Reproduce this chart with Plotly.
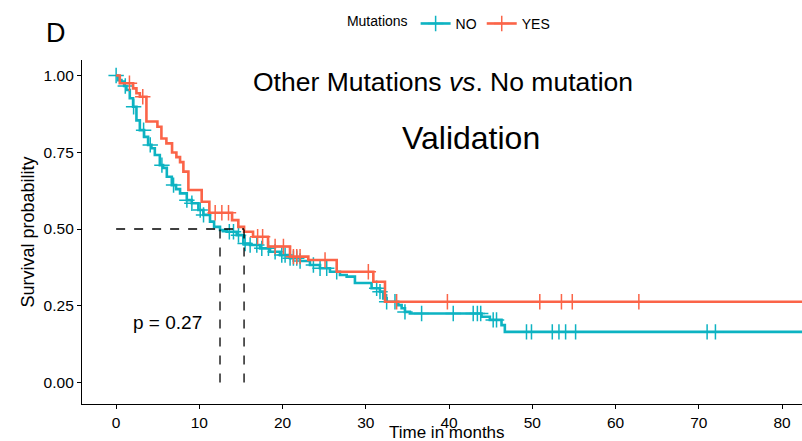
import plotly.graph_objects as go
import numpy as np

# ---- data ----
no_time = [0, 0.24, 0.64, 0.96, 1.24, 1.64, 2.04, 2.44, 2.85, 3.36, 3.84, 4.24, 4.65, 5.25,
           5.64, 6.09, 6.69, 7.20, 7.68, 8.49, 9.09, 9.88, 10.48, 11.28, 11.77, 12.48, 13.28,
           14.48, 15.28, 16.09, 17.29, 18.49, 19.69, 20.89, 22.09, 23.29, 24.49, 25.69, 26.89,
           27.70, 28.69, 30.69, 31.69, 32.09, 32.50, 33.90, 34.30, 34.70, 35.29, 43.90, 44.90,
           46.30, 46.70, 83.0]
no_surv = [1.0, 0.985, 0.980, 0.966, 0.953, 0.926, 0.898, 0.854, 0.822, 0.800, 0.774, 0.763,
           0.741, 0.708, 0.699, 0.670, 0.643, 0.630, 0.616, 0.594, 0.584, 0.562, 0.546, 0.524,
           0.507, 0.497, 0.491, 0.480, 0.453, 0.448, 0.437, 0.426, 0.415, 0.405, 0.396, 0.383,
           0.372, 0.361, 0.350, 0.345, 0.324, 0.307, 0.296, 0.274, 0.263, 0.252, 0.242, 0.230,
           0.225, 0.214, 0.204, 0.187, 0.165, 0.165]
no_censor = [0.0, 1.1, 2.1, 3.3, 4.1, 5.5, 6.9, 8.5, 9.1, 10.1, 10.5, 13.6, 14.1, 14.7, 15.5,
             16.1, 16.9, 17.5, 18.3, 19.1, 19.9, 20.3, 20.9, 21.3, 21.7, 22.1, 23.7, 24.5, 25.3,
             26.5, 31.3, 31.7, 32.5, 33.5, 34.7, 36.7, 40.5, 42.9, 43.4, 43.8, 45.3, 45.7, 49.3,
             49.9, 52.4, 53.2, 54.0, 55.2, 71.0, 72.0]

yes_time = [0, 0.44, 2.04, 2.44, 2.85, 3.64, 4.96, 5.44, 6.04, 6.72, 7.24, 7.68, 8.08, 8.68,
            10.28, 11.20, 13.93, 14.68, 15.37, 16.45, 18.25, 20.89, 23.09, 26.5, 30.9, 32.3, 83.0]
yes_surv = [1.0, 0.975, 0.958, 0.942, 0.931, 0.850, 0.833, 0.795, 0.779, 0.749, 0.734, 0.718,
            0.687, 0.627, 0.589, 0.553, 0.529, 0.507, 0.491, 0.475, 0.443, 0.410, 0.399, 0.361,
            0.328, 0.263, 0.263]
yes_censor = [1.6, 3.2, 11.9, 12.7, 13.5, 17.0, 17.6, 19.1, 20.1, 21.3, 21.7, 22.1, 25.1, 30.3,
              33.7, 39.8, 50.9, 53.5, 54.8, 62.8]

groups = ["NO", "YES"]
colors = {"NO": "#0DB3C2", "YES": "#FB6448"}
p_text = "p = 0.27"
x_ticks = [0, 10, 20, 30, 40, 50, 60, 70, 80]
y_ticks = [0, 0.25, 0.5, 0.75, 1.0]

FONT = "Liberation Sans, Arial, Helvetica, sans-serif"

def step_at(times, surv, t):
    idx = np.searchsorted(np.array(times), t, side="right") - 1
    return np.array(surv)[np.clip(idx, 0, len(surv) - 1)]

def median_of(times, surv):
    for t, s in zip(times, surv):
        if s <= 0.5:
            return t
    return None

fig = go.Figure()
data = {"NO": (no_time, no_surv, no_censor), "YES": (yes_time, yes_surv, yes_censor)}

for g in groups:
    t, s, c = data[g]
    fig.add_trace(go.Scatter(x=t, y=s, mode="lines", line=dict(color=colors[g], width=2.6, shape="hv"),
                             showlegend=False, hoverinfo="skip"))
    fig.add_trace(go.Scatter(x=c, y=step_at(t, s, c), mode="markers",
                             marker=dict(symbol="cross-thin", size=11, color=colors[g],
                                         line=dict(color=colors[g], width=1.5)),
                             showlegend=False, hoverinfo="skip"))

# median lines
meds = [median_of(*data[g][:2]) for g in groups]
fig.add_trace(go.Scatter(x=[0, max(meds)], y=[0.5, 0.5], mode="lines",
                         line=dict(color="black", width=1.3, dash="dash"), showlegend=False,
                         hoverinfo="skip"))
for m in meds:
    fig.add_trace(go.Scatter(x=[m, m], y=[0, 0.5], mode="lines",
                             line=dict(color="black", width=1.3, dash="dash"), showlegend=False,
                             hoverinfo="skip"))

# legend entries
for g in groups:
    fig.add_trace(go.Scatter(x=[None], y=[None], mode="lines+markers", name=g,
                             line=dict(color=colors[g], width=2.6),
                             marker=dict(symbol="cross-thin", size=11, color=colors[g],
                                         line=dict(color=colors[g], width=1.5))))

fig.add_annotation(x=6.2, y=0.197, xref="x", yref="y", text=p_text, showarrow=False,
                   font=dict(size=19, color="black", family=FONT))
fig.add_annotation(x=39.3, y=0.979, xref="x", yref="y",
                   text="Other Mutations <i>vs</i>. No mutation", showarrow=False,
                   font=dict(size=26.5, color="black", family=FONT))
fig.add_annotation(x=42.6, y=0.796, xref="x", yref="y", text="Validation", showarrow=False,
                   font=dict(size=32, color="black", family=FONT))
fig.add_annotation(x=-0.036, y=1.078, xref="paper", yref="paper", text="D", showarrow=False,
                   xanchor="center", yanchor="middle",
                   font=dict(size=27, color="black", family=FONT))
# x-axis title placed explicitly below the tick labels
fig.add_annotation(x=0.507, y=-0.084, xref="paper", yref="paper", text="Time in months",
                   showarrow=False, xanchor="center", yanchor="middle", borderpad=0,
                   font=dict(size=17, color="black", family=FONT))

axis_common = dict(showline=True, linecolor="black", linewidth=1.3, ticks="outside",
                   ticklen=4, tickwidth=1, tickcolor="black", showgrid=False, zeroline=False,
                   automargin=False,
                   tickfont=dict(size=15.5, color="black", family=FONT))

fig.update_layout(
    width=802, height=441,
    margin=dict(l=82, r=0, t=60, b=37),
    plot_bgcolor="white", paper_bgcolor="white",
    font=dict(family=FONT, color="black"),
    xaxis=dict(range=[-4.1, 82.4], tickvals=x_ticks, **axis_common),
    yaxis=dict(range=[-0.070, 1.0505], tickvals=y_ticks, tickformat=".2f",
               title=dict(text="Survival probability", font=dict(size=18, color="black"), standoff=4),
               **axis_common),
    legend=dict(orientation="h", x=0.511, xanchor="center", y=1.105, yanchor="middle",
                title=dict(text="Mutations", side="left", font=dict(size=14)),
                font=dict(size=14, color="black"), itemwidth=30, bgcolor="rgba(0,0,0,0)"),
)

fig.write_html("out.html", config={"displayModeBar": False},
               post_script="document.body.style.margin='0';document.body.style.overflow='hidden';")
